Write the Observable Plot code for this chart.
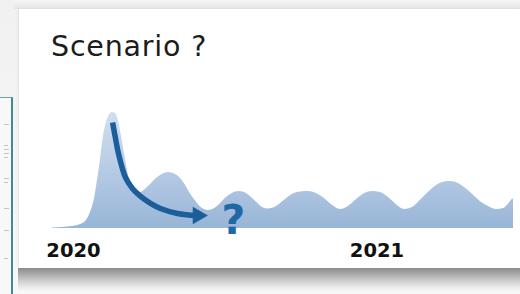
<!DOCTYPE html>
<html>
<head>
<meta charset="utf-8">
<script src="https://cdn.jsdelivr.net/npm/d3@7"></script>
<script src="https://cdn.jsdelivr.net/npm/@observablehq/plot@0.6"></script>
<style>
  html, body { margin: 0; padding: 0; }
  body { width: 520px; height: 294px; position: relative; overflow: hidden;
         background: linear-gradient(to bottom, #f1f1f1 0px, #f7f7f7 290px); font-family: "DejaVu Sans", sans-serif; }
  #topshade { position: absolute; left: 14px; top: 0; width: 506px; height: 9px;
              background: linear-gradient(to bottom, #f6f6f6, #e4e4e4); }
  #doc { position: absolute; left: 0; top: 97px; width: 11px; height: 200px; background: #f8f8f8;
         border-top: 1px solid #6aa3a9; border-right: 2px solid #3f8b93; }
  #doc i { position: absolute; left: 4px; height: 1px; background: #c4c4c4; display: block; }
  #card { position: absolute; left: 19px; top: 9px; width: 501px; height: 259px; background: #fff;
          box-shadow: -1px 0 2px rgba(0,0,0,0.08); }
  #shadow { position: absolute; left: 18px; top: 268px; width: 502px; height: 22px;
            background: linear-gradient(to bottom, #8c8c8c 0px, #a9a9a9 6px, #c9c9c9 12px, #e6e6e6 18px, #f3f3f3 22px); }
  #title { position: absolute; left: 51px; top: 33px; font-size: 28.5px; line-height: 28px; letter-spacing: 0.8px;
           color: #1c1c1c; white-space: nowrap; }
  #chart { position: absolute; left: 0; top: 0; }
</style>
</head>
<body>
<div id="topshade"></div>
<div id="doc">
  <i style="top:26px;width:5px"></i><i style="top:47px;width:4px"></i><i style="top:51px;width:5px"></i>
  <i style="top:55px;width:5px"></i><i style="top:59px;width:4px"></i><i style="top:80px;width:5px"></i>
  <i style="top:84px;width:4px"></i><i style="top:110px;width:5px"></i><i style="top:132px;width:5px"></i>
  <i style="top:160px;width:4px"></i>
</div>
<div id="card"></div>
<div id="shadow"></div>
<div id="title">Scenario ?</div>
<div id="chart"></div>
<script>
// Epidemic curve (weeks since start of 2020, relative level: first peak = 100)
const waveWeeks = [-3.6,-1.9,-0.2,1.2,2.2,2.9,3.6,4.1,4.6,5.1,5.7,6.2,6.7,7.2,7.7,8.2,8.7,9.4,10.1,10.8,11.5,12.3,13.2,14.2,15.2,16.3,17.1,18.0,19.0,20.0,21.1,22.1,23.1,24.2,25.2,26.2,27.2,28.3,29.3,30.3,31.4,32.4,33.4,34.8,36.1,37.5,38.9,40.3,41.6,43.0,44.4,45.7,47.1,48.5,49.9,51.2,52.6,54.0,55.3,56.7,58.1,59.4,60.8,62.2,63.6,64.6,65.6,67.0,68.4,69.7,71.1,72.5,73.7,74.5,75.2,75.4];
const waveLevels = [0.5,0.9,1.7,3.4,6.9,13.8,25.9,41.4,58.6,78.4,92.2,98.3,100,99.1,93.1,80.2,65.5,46.6,37.1,32.8,31.0,33.6,37.9,43.1,46.6,48.3,47.4,44.8,38.8,30.2,22.4,17.2,15.5,17.2,21.6,26.7,30.2,31.9,31.0,27.6,22.4,18.1,16.8,19.0,24.1,29.3,31.5,31.9,30.2,25.9,19.8,16.4,19.0,25.0,30.2,31.9,31.0,26.7,20.7,16.4,18.1,24.1,31.0,37.1,40.1,40.5,39.7,35.3,29.3,23.3,19.0,16.4,17.2,20.7,25.0,25.4];

// Curved annotation arrow
const arrowWeeks = [6.7,7.2,7.7,8.9,10.1,11.5,13.2,14.9,17.8,20.6];
const arrowLevels = [91.4,77.6,64.7,44.0,34.5,27.6,21.6,17.2,12.9,11.2];
const arrowHead = [{w: 21.3, v: 11.2}];

// Question mark annotation
const question = [{w: 27.4, v: 6.9, label: "?"}];

// Axis ticks
const tickWeeks = [0, 52];
const tickLabels = ["2020", "2021"];

const waves = waveWeeks.map((w, i) => ({w, v: waveLevels[i]}));
const arrow = arrowWeeks.map((w, i) => ({w, v: arrowLevels[i]}));

const arrowColor = "#1b5e9a";

const svg = Plot.plot({
  width: 520,
  height: 294,
  marginLeft: 52,
  marginRight: 7,
  marginTop: 112,
  marginBottom: 66,
  style: {background: "transparent", fontFamily: "DejaVu Sans, sans-serif", fontSize: "19.5px", fontWeight: "bold", color: "#111"},
  x: {domain: [-3.6, 75.4], axis: null},
  y: {domain: [0, 100], axis: null},
  marks: [
    Plot.areaY(waves, {x: "w", y: "v", curve: "monotone-x", fill: "url(#areaGrad)"}),
    Plot.line(arrow, {x: "w", y: "v", curve: "catmull-rom", stroke: arrowColor, strokeWidth: 5.5, strokeLinecap: "butt"}),
    Plot.dot(arrowHead, {x: "w", y: "v", symbol: "triangle", rotate: 90, r: 6.5, fill: arrowColor, stroke: null}),
    Plot.text(question, {x: "w", y: "v", text: "label", fontSize: 41, fontWeight: "bold", fill: "#1f68a4", lineAnchor: "middle"}),
    Plot.axisX({ticks: tickWeeks, tickFormat: d => tickLabels[tickWeeks.indexOf(d)], tickSize: 0, tickPadding: 15, label: null, fill: "#111"})
  ]
});

d3.select(svg).insert("defs", ":first-child").html(
  `<linearGradient id="areaGrad" x1="0" y1="0" x2="0" y2="1">
     <stop offset="0" stop-color="#d3dfee"/>
     <stop offset="0.55" stop-color="#b3c9e3"/>
     <stop offset="1" stop-color="#98b5d7"/>
   </linearGradient>`);

document.getElementById("chart").appendChild(svg);
</script>
</body>
</html>
